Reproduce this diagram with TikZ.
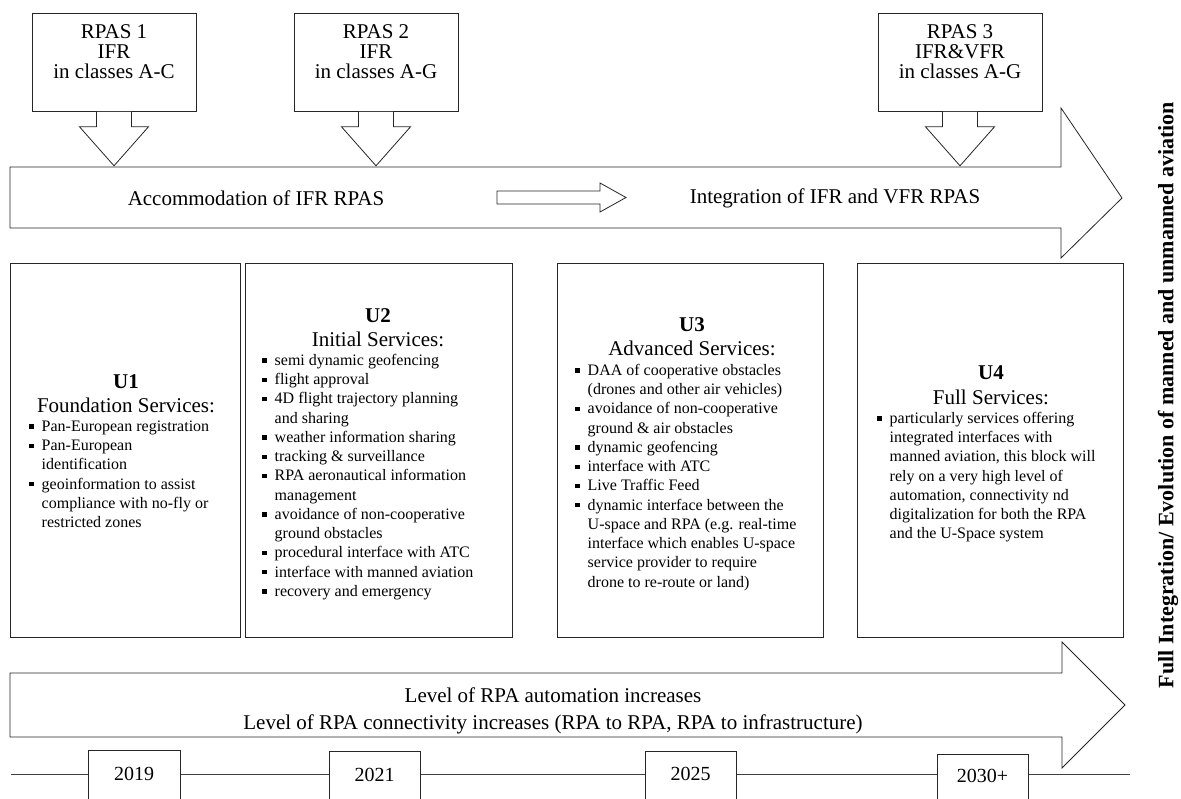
\documentclass[tikz,border=0pt]{standalone}
\usepackage{fontspec}
\setmainfont{Liberation Serif}
\usetikzlibrary{calc}
\newcommand{\ubul}{\makebox[12.5pt][l]{\raisebox{2.6pt}{\rule{4.4pt}{4.4pt}}}}
\newcommand{\uind}{\hspace*{12.5pt}}
\begin{document}
\begin{tikzpicture}[x=1pt,y=-1pt,
  outl/.style={draw=black!85,line width=0.8pt,fill=white},
  frame/.style={outl,inner sep=0pt},
  big/.style={font=\fontsize{21}{23}\selectfont},
  head/.style={font=\fontsize{21}{23}\selectfont,inner sep=0pt},
  bhead/.style={font=\bfseries\fontsize{21}{23}\selectfont,inner sep=0pt},
  lst/.style={font=\fontsize{16}{19.25}\selectfont,align=left,inner sep=0pt,anchor=north west},
  rtext/.style={font=\fontsize{21}{20}\selectfont,align=center,inner sep=0pt},
  year/.style={font=\fontsize{20}{22}\selectfont,inner sep=0pt}]
\useasboundingbox (0,0) rectangle (1181,799);

% ---------- top big arrow ----------
\draw[outl] (10,167) -- (1061,167) -- (1061,108) -- (1122,198) -- (1061,258) -- (1061,228) -- (10,228) -- cycle;
\node[big] (acc) at (256,198) {Accommodation of IFR RPAS};
\node[big] (integ) at (835,198) {Integration of IFR and VFR RPAS};
\draw[outl] (497,191) -- (600,191) -- (600,183) -- (626,197.5) -- (600,212) -- (600,204) -- (497,204) -- cycle;

% ---------- RPAS callouts ----------
\foreach \n/\cx in {1/114,2/376,3/960}{
  \node[frame,minimum width=164,minimum height=98,anchor=north] (r\n) at (\cx,13) {};
  \draw[outl] ($(r\n.south)+(-17.5,0)$) -- ++(0,15) -- ++(-17,0) -- ($(r\n.south)+(0,54)$)
     -- ($(r\n.south)+(34.5,15)$) -- ++(-17,0) -- ($(r\n.south)+(17.5,0)$);
}
\node[rtext] (r1t) at (114,52) {RPAS 1\\IFR\\in classes A-C};
\node[rtext] (r2t) at (376,52) {RPAS 2\\IFR\\in classes A-G};
\node[rtext] (r3t) at (960,52) {RPAS 3\\IFR\&VFR\\in classes A-G};

% ---------- U boxes ----------
\node[frame,minimum width=230,minimum height=374,anchor=north west] (u1) at (10,263) {};
\node[frame,minimum width=267,minimum height=374,anchor=north west] (u2) at (245,263) {};
\node[frame,minimum width=266,minimum height=374,anchor=north west] (u3) at (557,263) {};
\node[frame,minimum width=266,minimum height=374,anchor=north west] (u4) at (857,263) {};

\node[bhead] (u1h) at (126,382) {U1};
\node[head] (u1s) at (126,405) {Foundation Services:};
\node[lst] (u1l) at (29,417.6) {\strut\ubul Pan-European registration\\
\ubul Pan-European\\
\uind identification\\
\ubul geoinformation to assist\\
\uind compliance with no-fly or\\
\uind restricted zones};

\node[bhead] (u2h) at (378,316) {U2};
\node[head] (u2s) at (378,339) {Initial Services:};
\node[lst] (u2l) at (262,351.6) {\strut\ubul semi dynamic geofencing\\
\ubul flight approval\\
\ubul 4D flight trajectory planning\\
\uind and sharing\\
\ubul weather information sharing\\
\ubul tracking \& surveillance\\
\ubul RPA aeronautical information\\
\uind management\\
\ubul avoidance of non-cooperative\\
\uind ground obstacles\\
\ubul procedural interface with ATC\\
\ubul interface with manned aviation\\
\ubul recovery and emergency};

\node[bhead] (u3h) at (692,325) {U3};
\node[head] (u3s) at (692,348) {Advanced Services:};
\node[lst] (u3l) at (575,361.6) {\strut\ubul DAA of cooperative obstacles\\
\uind (drones and other air vehicles)\\
\ubul avoidance of non-cooperative\\
\uind ground \& air obstacles\\
\ubul dynamic geofencing\\
\ubul interface with ATC\\
\ubul Live Traffic Feed\\
\ubul dynamic interface between the\\
\uind U-space and RPA (e.g. real-time\\
\uind interface which enables U-space\\
\uind service provider to require\\
\uind drone to re-route or land)};

\node[bhead] (u4h) at (991,373) {U4};
\node[head] (u4s) at (991,397) {Full Services:};
\node[lst] (u4l) at (877,409.6) {\strut\ubul particularly services offering\\
\uind integrated interfaces with\\
\uind manned aviation, this block will\\
\uind rely on a very high level of\\
\uind automation, connectivity nd\\
\uind digitalization for both the RPA\\
\uind and the U-Space system};

% ---------- bottom arrow ----------
\draw[outl] (10,673) -- (1062,673) -- (1062,642) -- (1125,705) -- (1062,768) -- (1062,737) -- (10,737) -- cycle;
\node[font=\fontsize{21}{27}\selectfont,align=center,inner sep=0pt] (lvl) at (553,711)
  {Level of RPA automation increases\\Level of RPA connectivity increases (RPA to RPA, RPA to infrastructure)};

% ---------- timeline ----------
\coordinate (tl0) at (11,774);
\coordinate (tl1) at (1130,774);
\draw[draw=black!75,line width=0.9pt] (tl0) -- (tl1);
\foreach \nm/\xa/\xb/\yt in {a/88/180/750,b/329/420/751,c/645/736/751,d/937/1028/754}{
  \fill[white] (\xa,\yt) rectangle (\xb,805);
  \draw[draw=black!85,line width=0.8pt] (\xa,805) -- (\xa,\yt) -- (\xb,\yt) -- (\xb,805);
}
\node[year] (ya) at (134,774) {2019};
\node[year] (yb) at (374.5,775) {2021};
\node[year] (yc) at (690.5,774) {2025};
\node[year] (yd) at (982.5,776) {2030+};

% ---------- side label ----------
\node[rotate=90,font=\bfseries\fontsize{22}{24}\selectfont,inner sep=0pt] (side) at (1168,395)
  {Full Integration/ Evolution of manned and unmanned aviation};
\end{tikzpicture}
\end{document}
